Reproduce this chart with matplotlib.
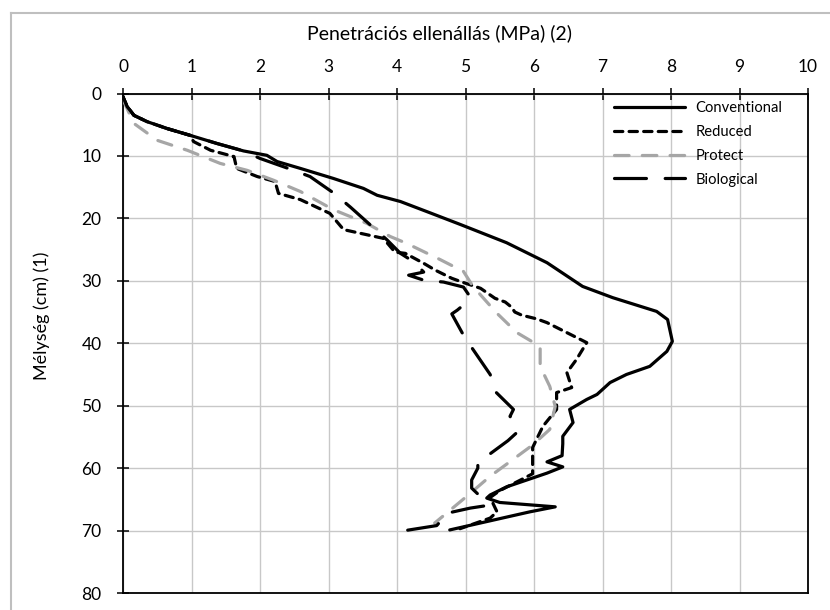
import matplotlib
matplotlib.use("Agg")
import matplotlib.pyplot as plt
from matplotlib.lines import Line2D

plt.rcParams['font.family'] = ['Lato', 'DejaVu Sans']
plt.rcParams['lines.scale_dashes'] = False

# ---- data (depth in cm, penetration resistance in MPa) ----
conv_depth = [0.5, 0.8, 2.1, 3.5, 4.5, 5.6, 6.7, 8.0, 9.2, 9.9, 10.9, 12.0, 13.6, 15.2, 16.3, 17.3,
              19.1, 21.0, 23.9, 27.1, 30.9, 32.7, 34.9, 36.2, 39.7, 41.3, 43.7, 45.0, 46.3, 48.2,
              49.0, 50.6, 52.7, 54.9, 56.1, 58.0, 59.0, 59.8, 60.8, 63.0, 64.3, 64.8, 65.5, 66.2,
              67.0, 69.9]
conv_mpa = [0.0, 0.01, 0.06, 0.16, 0.35, 0.64, 0.98, 1.37, 1.76, 2.10, 2.25, 2.59, 3.07, 3.51, 3.71, 4.05,
            4.48, 4.93, 5.60, 6.19, 6.71, 7.15, 7.79, 7.95, 8.02, 7.94, 7.69, 7.35, 7.11, 6.92,
            6.77, 6.52, 6.57, 6.42, 6.42, 6.41, 6.19, 6.42, 6.19, 5.60, 5.36, 5.31, 5.50, 6.31,
            5.94, 4.77]

red_depth = [0.5, 0.8, 2.1, 3.5, 4.5, 5.6, 6.7, 7.7, 9.1, 10.1, 12.0, 13.3, 14.1, 16.0, 17.0, 19.2,
             21.8, 23.2, 25.4, 25.6, 27.2, 28.3, 29.6, 30.2, 31.2, 32.8, 33.4, 34.2, 35.0, 35.5,
             36.1, 36.7, 39.9, 42.6, 44.7, 47.1, 47.9, 50.6, 53.3, 56.7, 60.9, 61.7, 63.6, 64.7,
             67.0, 68.0, 69.7]
red_mpa = [0.0, 0.01, 0.06, 0.16, 0.35, 0.64, 0.98, 1.03, 1.28, 1.62, 1.66, 1.96, 2.22, 2.27, 2.59, 3.02,
           3.22, 3.80, 3.97, 4.12, 4.39, 4.56, 4.80, 4.95, 5.22, 5.43, 5.58, 5.67, 5.72, 5.82,
           6.04, 6.19, 6.77, 6.62, 6.48, 6.55, 6.33, 6.33, 6.13, 5.98, 5.98, 5.84, 5.50, 5.36,
           5.46, 5.36, 4.92]

prot_depth = [1.0, 4.8, 7.5, 9.1, 11.2, 12.3, 13.9, 15.7, 18.6, 20.8, 22.9, 24.0, 26.6, 28.5,
              30.9, 35.1, 38.3, 40.5, 43.7, 46.9, 50.1, 53.8, 56.3, 61.3, 64.5, 68.8]
prot_mpa = [0.0, 0.16, 0.50, 0.94, 1.42, 1.81, 2.20, 2.59, 3.07, 3.56, 3.90, 4.14, 4.63, 4.97,
            5.11, 5.45, 5.75, 6.09, 6.09, 6.23, 6.31, 6.23, 5.98, 5.36, 5.02, 4.55]

bio_depth = [0.5, 0.8, 2.1, 3.5, 4.5, 5.6, 6.7, 8.0, 9.2, 10.4, 12.3, 13.3, 15.9, 18.2, 23.4, 25.6,
             27.0, 28.6, 29.1, 29.9, 30.2, 31.0, 32.6, 33.6, 34.7, 35.3, 38.7, 41.0, 45.0, 47.9,
             50.6, 51.7, 54.3, 55.6, 57.7, 59.1, 60.0, 61.9, 63.2, 65.2, 66.0, 66.4, 67.2, 69.2, 70.0]
bio_mpa = [0.0, 0.01, 0.06, 0.16, 0.35, 0.64, 0.98, 1.37, 1.76, 2.0, 2.49, 2.73, 3.07, 3.32, 3.85, 4.05,
           4.25, 4.39, 4.17, 4.39, 4.68, 4.97, 5.07, 5.0, 4.88, 4.80, 4.97, 5.11, 5.36, 5.45,
           5.70, 5.65, 5.75, 5.62, 5.36, 5.18, 5.18, 5.09, 5.09, 5.28, 5.31, 5.07, 4.74, 4.58, 4.12]

series_names = ["Conventional", "Reduced", "Protect", "Biological"]
x_ticks = list(range(0, 11))
y_ticks = list(range(0, 81, 10))

W, H = 830, 610
fig = plt.figure(figsize=(W / 100, H / 100), dpi=100)
ax = fig.add_axes([123 / W, 1 - 593 / H, (808 - 123) / W, (593 - 93.5) / H])

lw = 2.3
ax.plot(conv_mpa, conv_depth, color='black', lw=lw, solid_capstyle='round', solid_joinstyle='round',
        label=series_names[0], zorder=3)
ax.plot(red_mpa, red_depth, color='black', lw=lw, dashes=(6.0, 4.5), dash_capstyle='round',
        label=series_names[1], zorder=3)
ax.plot(prot_mpa, prot_depth, color='#a6a6a6', lw=lw, dashes=(10.5, 9.5), dash_capstyle='round',
        label=series_names[2], zorder=3)
ax.plot(bio_mpa, bio_depth, color='black', lw=lw, dashes=(23, 13.5), dash_capstyle='round',
        label=series_names[3], zorder=3)

ax.set_xlim(0, 10)
ax.set_ylim(80, 0)
ax.set_xticks(x_ticks)
ax.set_yticks(y_ticks)
ax.xaxis.tick_top()
ax.grid(True, color='#c8c8c8', lw=1.0, zorder=0)
ax.set_axisbelow(True)
for s in ax.spines.values():
    s.set_color('black')
    s.set_linewidth(1.3)
ax.tick_params(axis='x', direction='inout', length=9, width=1.1, pad=9, labelsize=12.5,
               colors='black', top=True, bottom=False)
ax.tick_params(axis='y', direction='inout', length=9, width=1.1, pad=11, labelsize=12.5,
               colors='black', left=True, right=False)

fig.text(439 / W, 1 - 33 / H, "Penetrációs ellenállás (MPa) (2)", ha='center', va='center',
         fontsize=14, color='black')
fig.text(42 / W, 1 - 316 / H, "Mélység (cm) (1)", ha='center', va='center', rotation=90,
         fontsize=13, color='black')

leg = ax.legend(loc='upper left', bbox_to_anchor=(614 / W, 1 - 101.5 / H),
                bbox_transform=fig.transFigure, frameon=False, fontsize=10.6,
                handlelength=4.85, handletextpad=0.68, labelspacing=0.66,
                borderpad=0, borderaxespad=0)

# outer chart-area border (cropped at right and bottom)
fig.add_artist(Line2D([11 / W, 11 / W], [1 - 13 / H, 0], transform=fig.transFigure,
                      color='#bfbfbf', lw=1.5))
fig.add_artist(Line2D([11 / W, 1], [1 - 13 / H, 1 - 13 / H], transform=fig.transFigure,
                      color='#bfbfbf', lw=1.5))

fig.savefig("out.png", dpi=100)
